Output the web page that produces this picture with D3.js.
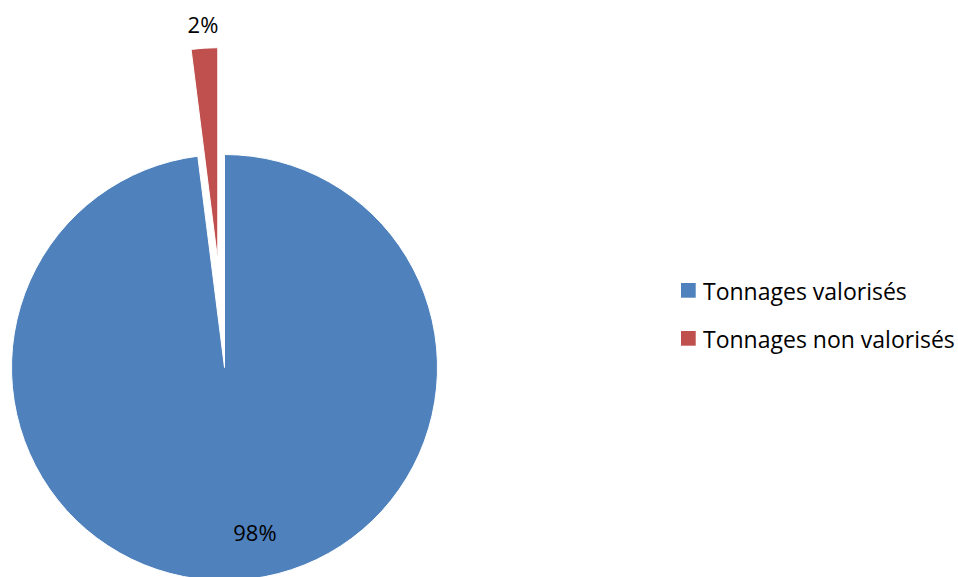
<!DOCTYPE html>
<html>
<head>
<meta charset="utf-8">
<script src="https://cdn.jsdelivr.net/npm/d3@7"></script>
<style>
  body { margin: 0; background: #fff; }
  svg { display: block; font-family: "Open Sans", sans-serif; }
</style>
</head>
<body>
<div id="chart-container"></div>
<script>
// chart data
const categories = ["Tonnages valorisés", "Tonnages non valorisés"];
const values = [98, 2];
const labels = ["98%", "2%"];
const colors = ["#4F81BD", "#C0504D"];
const explode = [0, 107]; // pixel offset of each slice along its mid angle

const width = 958;
const height = 577;
const cx = 224.5, cy = 367.5, radius = 213;

const svg = d3.select("#chart-container")
  .append("svg")
  .attr("width", width)
  .attr("height", height);

const pie = d3.pie().sort(null).value(d => d);
const arcs = pie(values);

const arc = d3.arc().innerRadius(0).outerRadius(radius);

const offset = (d, i) => {
  const mid = (d.startAngle + d.endAngle) / 2;
  return [Math.sin(mid) * explode[i], -Math.cos(mid) * explode[i]];
};

const chartGroup = svg.append("g")
  .attr("transform", `translate(${cx},${cy})`);

// slices
chartGroup.selectAll(".slice")
  .data(arcs)
  .enter()
  .append("path")
  .attr("class", "slice")
  .attr("d", arc)
  .attr("transform", (d, i) => `translate(${offset(d, i)})`)
  .attr("fill", (d, i) => colors[i])
  .attr("stroke", "#fff")
  .attr("stroke-width", 1);

// data labels
const labelRadius = [166, 236];
const labelDx = [20, 0];
chartGroup.selectAll(".label")
  .data(arcs)
  .enter()
  .append("text")
  .attr("class", "label")
  .attr("transform", (d, i) => {
    const mid = (d.startAngle + d.endAngle) / 2;
    const o = offset(d, i);
    const x = o[0] + Math.sin(mid) * labelRadius[i] + labelDx[i];
    const y = o[1] - Math.cos(mid) * labelRadius[i];
    return `translate(${x},${y})`;
  })
  .attr("text-anchor", "middle")
  .attr("dy", "0.35em")
  .style("font-size", "22px")
  .style("fill", "#000")
  .text((d, i) => labels[i]);

// legend
const legend = svg.append("g")
  .attr("transform", "translate(681,283)");

const items = legend.selectAll(".item")
  .data(categories)
  .enter()
  .append("g")
  .attr("class", "item")
  .attr("transform", (d, i) => `translate(0,${i * 48})`);

items.append("rect")
  .attr("width", 14.7)
  .attr("height", 14.7)
  .attr("fill", (d, i) => colors[i]);

items.append("text")
  .attr("x", 22)
  .attr("y", 16.5)
  .style("font-size", "23px")
  .style("fill", "#000")
  .text(d => d);
</script>
</body>
</html>
